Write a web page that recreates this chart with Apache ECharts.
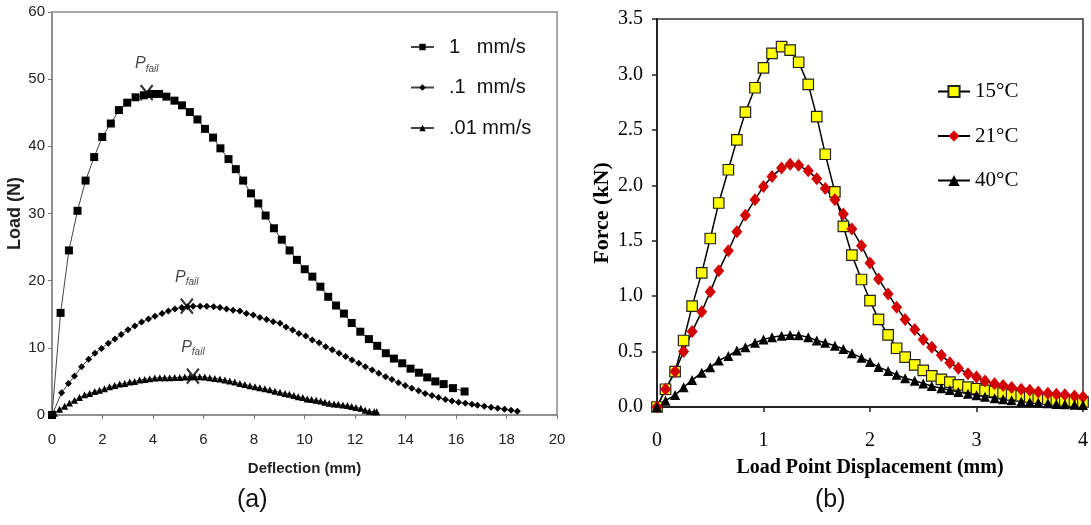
<!DOCTYPE html>
<html><head><meta charset="utf-8">
<script src="https://cdn.jsdelivr.net/npm/echarts@6/dist/echarts.min.js"></script>
<style>html,body{margin:0;padding:0;background:#fff}#c{width:1091px;height:525px}</style>
</head><body><div id="c"></div><script>
// ---------- Panel (a): Load vs Deflection ----------
const sqX = [0,0.34,0.67,1.01,1.33,1.67,1.99,2.33,2.65,2.98,3.31,3.64,3.94,4.24,4.53,4.85,5.15,5.46,5.76,6.06,6.38,6.67,6.99,7.28,7.57,7.88,8.17,8.46,8.79,9.10,9.41,9.70,10.01,10.31,10.63,10.94,11.25,11.56,11.87,12.21,12.55,12.88,13.22,13.54,13.87,14.20,14.53,14.86,15.18,15.51,15.88,16.34];
const sqY = [0,15.2,24.5,30.4,34.9,38.4,41.4,43.4,45.4,46.5,47.3,47.6,47.8,47.8,47.4,46.8,46.1,45.1,44.0,42.6,41.3,39.7,38.1,36.6,34.9,33.0,31.5,29.7,27.8,26.1,24.5,23.1,21.7,20.6,19.1,17.6,16.3,15.1,13.7,12.4,11.3,10.3,9.2,8.4,7.7,6.9,6.3,5.6,5.0,4.6,4.0,3.5];
const diX = [0,0.38,0.65,0.89,1.17,1.45,1.70,1.96,2.23,2.49,2.74,3.01,3.28,3.55,3.82,4.08,4.36,4.61,4.87,5.14,5.37,5.59,5.87,6.13,6.40,6.65,6.91,7.17,7.44,7.70,7.97,8.23,8.50,8.76,9.03,9.27,9.53,9.78,10.05,10.31,10.58,10.84,11.10,11.37,11.63,11.88,12.15,12.41,12.68,12.94,13.21,13.46,13.72,13.99,14.25,14.52,14.78,15.05,15.31,15.58,15.84,16.10,16.37,16.63,16.85,17.12,17.39,17.65,17.92,18.18,18.43];
const diY = [0,3.3,4.7,5.8,7.2,8.3,9.2,9.9,10.7,11.3,12.0,12.7,13.25,13.85,14.3,14.7,15.1,15.5,15.8,16.0,16.1,16.2,16.2,16.2,16.1,16.0,15.8,15.6,15.5,15.1,14.9,14.5,14.2,13.9,13.65,13.1,12.65,12.15,11.75,11.15,10.75,10.15,9.7,9.2,8.7,8.2,7.7,7.2,6.7,6.2,5.7,5.3,4.8,4.4,4.0,3.6,3.2,2.9,2.6,2.3,2.1,1.9,1.75,1.6,1.45,1.3,1.15,1.0,0.85,0.7,0.55];
const trX = [0,0.10,0.30,0.50,0.69,0.89,1.09,1.29,1.49,1.69,1.88,2.08,2.28,2.48,2.68,2.88,3.08,3.27,3.47,3.67,3.87,4.07,4.27,4.46,4.66,4.86,5.06,5.26,5.46,5.65,5.85,6.05,6.25,6.45,6.65,6.85,7.04,7.24,7.44,7.64,7.84,8.04,8.23,8.43,8.63,8.83,9.03,9.23,9.40,9.58,9.75,9.93,10.11,10.28,10.46,10.64,10.81,10.98,11.17,11.34,11.52,11.70,11.87,12.04,12.23,12.40,12.57,12.76,12.86];
const trY = [0,0.25,0.85,1.3,1.8,2.2,2.6,3.0,3.2,3.5,3.7,3.9,4.2,4.4,4.6,4.7,4.9,5.0,5.2,5.3,5.4,5.5,5.55,5.55,5.55,5.6,5.6,5.65,5.7,5.7,5.7,5.65,5.55,5.45,5.35,5.2,5.05,4.9,4.7,4.55,4.35,4.2,4.05,3.9,3.75,3.55,3.4,3.2,3.1,2.9,2.7,2.6,2.4,2.3,2.2,2.1,1.9,1.75,1.65,1.6,1.5,1.4,1.25,1.1,1.0,0.7,0.55,0.5,0.5];
const failX = [3.75,5.34,5.58];
const failY = [48.0,16.2,5.8];
const leftNames = ['1   mm/s','.1  mm/s','.01 mm/s'];

// ---------- Panel (b): Force vs Load Point Displacement ----------
const dispX = [0,0.08,0.17,0.25,0.33,0.42,0.5,0.58,0.67,0.75,0.83,0.92,1.0,1.08,1.17,1.25,1.33,1.42,1.5,1.58,1.67,1.75,1.83,1.92,2.0,2.08,2.17,2.25,2.33,2.42,2.5,2.58,2.67,2.75,2.83,2.92,3.0,3.08,3.17,3.25,3.33,3.42,3.5,3.58,3.67,3.75,3.83,3.92,4.0];
const f15 = [0,0.16,0.32,0.60,0.91,1.21,1.52,1.84,2.14,2.41,2.66,2.88,3.06,3.19,3.25,3.22,3.11,2.91,2.62,2.28,1.94,1.63,1.37,1.15,0.96,0.79,0.65,0.53,0.45,0.38,0.33,0.28,0.25,0.225,0.20,0.18,0.165,0.15,0.14,0.125,0.11,0.10,0.09,0.08,0.07,0.065,0.055,0.05,0.045];
const f21 = [0,0.16,0.32,0.50,0.68,0.86,1.04,1.23,1.41,1.58,1.73,1.87,1.99,2.08,2.155,2.19,2.18,2.13,2.06,1.97,1.87,1.74,1.605,1.455,1.30,1.155,1.02,0.90,0.79,0.70,0.61,0.54,0.466,0.40,0.35,0.30,0.27,0.235,0.21,0.195,0.175,0.16,0.15,0.135,0.125,0.115,0.11,0.10,0.09];
const f40 = [0,0.057,0.108,0.178,0.243,0.31,0.358,0.42,0.46,0.51,0.54,0.58,0.61,0.63,0.643,0.65,0.647,0.63,0.60,0.58,0.553,0.523,0.484,0.445,0.405,0.36,0.325,0.29,0.26,0.237,0.213,0.19,0.17,0.153,0.135,0.12,0.105,0.093,0.08,0.07,0.06,0.05,0.045,0.04,0.034,0.028,0.025,0.02,0.017];
const rightNames = ['15°C','21°C','40°C'];

const zip = (xs, ys) => xs.map((v, i) => [v, ys[i]]);
const NARROW = '"Liberation Sans Narrow","Arial Narrow","Liberation Sans",sans-serif';
const SANS = '"Liberation Sans",Arial,sans-serif';
const SERIF = '"Liberation Serif","Times New Roman",serif';

const leftLine = {color:'#444', width:1};
const rightLine = {color:'#000', width:1.5};

const chart = echarts.init(document.getElementById('c'), null, {renderer:'canvas'});
chart.setOption({
  animation: false,
  backgroundColor: '#fff',
  grid: [
    {left:52, top:12, width:505, height:403, show:true, borderColor:'#8a8a8a', borderWidth:1.5},
    {left:657, top:19, width:430, height:388, show:true, borderColor:'#333', borderWidth:1.5}
  ],
  xAxis: [
    {gridIndex:0, type:'value', min:0, max:20, interval:2,
     axisLine:{onZero:false, lineStyle:{color:'#8a8a8a', width:1.5}},
     axisTick:{show:true, inside:false, length:4, lineStyle:{color:'#777'}},
     splitLine:{show:false},
     axisLabel:{margin:17, fontSize:15, fontFamily:NARROW, color:'#222'},
     name:'Deflection (mm)', nameLocation:'middle', nameGap:46,
     nameTextStyle:{fontSize:15, fontWeight:'bold', fontFamily:NARROW, color:'#222'}},
    {gridIndex:1, type:'value', min:0, max:4, interval:1,
     axisLine:{onZero:false, lineStyle:{color:'#222', width:2}},
     axisTick:{show:true, inside:false, length:5, lineStyle:{color:'#222', width:1.5}},
     splitLine:{show:false},
     axisLabel:{margin:24, fontSize:20, fontFamily:SERIF, color:'#000'},
     name:'Load Point Displacement (mm)', nameLocation:'middle', nameGap:51,
     nameTextStyle:{fontSize:20, fontWeight:'bold', fontFamily:SERIF, color:'#000'}}
  ],
  yAxis: [
    {gridIndex:0, type:'value', min:0, max:60, interval:10,
     axisLine:{onZero:false, lineStyle:{color:'#8a8a8a', width:1.5}},
     axisTick:{show:true, inside:false, length:4, lineStyle:{color:'#777'}},
     splitLine:{show:false},
     axisLabel:{margin:7, fontSize:15, fontFamily:NARROW, color:'#222'},
     name:'Load (N)', nameLocation:'middle', nameGap:21,
     nameTextStyle:{fontSize:18, fontWeight:'bold', fontFamily:NARROW, color:'#222'}},
    {gridIndex:1, type:'value', min:0, max:3.5, interval:0.5,
     axisLine:{onZero:false, lineStyle:{color:'#222', width:2}},
     axisTick:{show:true, inside:false, length:5, lineStyle:{color:'#222', width:1.5}},
     splitLine:{show:false},
     axisLabel:{margin:14, fontSize:20, fontFamily:SERIF, color:'#000', formatter:v => v.toFixed(1)},
     name:'Force (kN)', nameLocation:'middle', nameGap:44,
     nameTextStyle:{fontSize:22, fontWeight:'bold', fontFamily:SERIF, color:'#000'}}
  ],
  legend: [
    {data:leftNames, orient:'vertical', left:405, top:32, itemWidth:23, itemHeight:8, itemGap:20.5,
     textStyle:{fontFamily:SANS, fontSize:20, color:'#111', lineHeight:20, padding:[0,0,0,10]}},
    {data:rightNames, orient:'vertical', left:932, top:76, itemWidth:32, itemHeight:14, itemGap:23.5,
     textStyle:{fontFamily:SERIF, fontSize:21, color:'#000', lineHeight:20}}
  ],
  graphic: [
    {type:'text', left:237, top:488, style:{text:'(a)', fontSize:25, fontFamily:SANS, fill:'#111'}},
    {type:'text', left:815, top:488, style:{text:'(b)', fontSize:25, fontFamily:SANS, fill:'#111'}}
  ],
  series: [
    {name:leftNames[0], type:'line', xAxisIndex:0, yAxisIndex:0, data:zip(sqX, sqY),
     symbol:'rect', symbolSize:8, itemStyle:{color:'#000'}, lineStyle:leftLine},
    {name:leftNames[1], type:'line', xAxisIndex:0, yAxisIndex:0, data:zip(diX, diY),
     symbol:'diamond', symbolSize:7, itemStyle:{color:'#000'}, lineStyle:leftLine},
    {name:leftNames[2], type:'line', xAxisIndex:0, yAxisIndex:0, data:zip(trX, trY),
     symbol:'triangle', symbolSize:7, itemStyle:{color:'#000'}, lineStyle:leftLine},
    {name:'Pfail', type:'scatter', xAxisIndex:0, yAxisIndex:0, data:zip(failX, failY), z:5,
     symbol:'path://M0,0L10,12M10,0L0,12', symbolSize:[12,15],
     itemStyle:{color:'#000', borderColor:'#000', borderWidth:2.2},
     label:{show:true, position:'top', distance:10, formatter:'{p|P}{s|fail}',
       rich:{p:{fontSize:16, fontStyle:'italic', fontFamily:SANS, color:'#111', verticalAlign:'top', lineHeight:18},
             s:{fontSize:10, fontStyle:'italic', fontFamily:SANS, color:'#111', verticalAlign:'bottom', lineHeight:18}}}},
    {name:rightNames[0], type:'line', xAxisIndex:1, yAxisIndex:1, data:zip(dispX, f15),
     symbol:'rect', symbolSize:10.5, itemStyle:{color:'#FFFF00', borderColor:'#222', borderWidth:1.2}, lineStyle:rightLine},
    {name:rightNames[1], type:'line', xAxisIndex:1, yAxisIndex:1, data:zip(dispX, f21),
     symbol:'diamond', symbolSize:[11,13], itemStyle:{color:'#D40000'}, lineStyle:rightLine},
    {name:rightNames[2], type:'line', xAxisIndex:1, yAxisIndex:1, data:zip(dispX, f40),
     symbol:'triangle', symbolSize:10, itemStyle:{color:'#000'}, lineStyle:rightLine}
  ]
});
</script></body></html>
